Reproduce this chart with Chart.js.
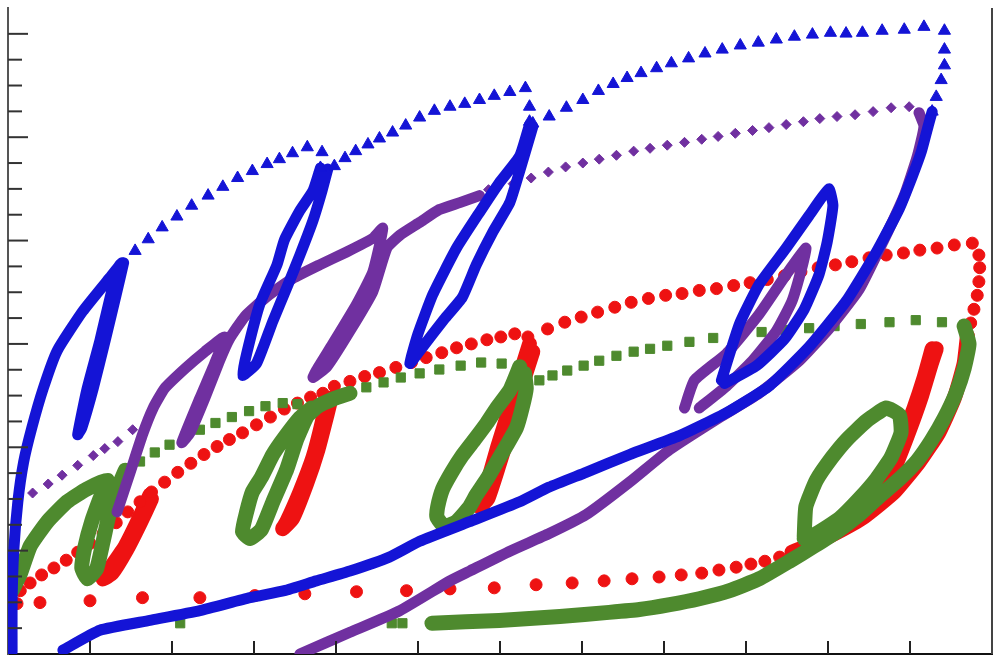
<!DOCTYPE html>
<html>
<head>
<meta charset="utf-8">
<script src="https://cdn.jsdelivr.net/npm/chart.js@4.4.1/dist/chart.umd.min.js"></script>
<style>
  html, body { margin: 0; padding: 0; background: #fff; }
  #wrap { width: 1000px; height: 666px; }
</style>
</head>
<body>
<div id="wrap"><canvas id="chart" width="1000" height="666"></canvas></div>
<script>
// values, [x, y]; null breaks a trail
const xTicks = [1, 2, 3, 4, 5, 6, 7, 8, 9, 10, 11];
const yTicks = [1, 2, 3, 4, 5, 6, 7, 8, 9, 10, 11, 12, 13, 14, 15, 16, 17, 18, 19, 20, 21, 22, 23, 24];

// blue (triangles)
const blueRise = [[0.05,0.08],[0.05,2.06],[0.07,3.98],[0.12,5.89],[0.19,7.42],[0.29,8.75],[0.43,10.28],[0.60,11.74],[0.91,13.26],[1.24,14.56],[1.39,15.14],
  [1.27,14.11],[1.12,12.12],[0.96,10.21],[0.85,8.49],[0.90,8.75],[1.04,10.28],[1.19,12.19],[1.32,13.91],[1.41,15.14]];
const blueLoop2 = [[3.81,18.81],[3.72,17.93],[3.56,17.16],[3.37,16.02],[3.28,15.06],[3.07,13.53],[2.91,11.62],[2.86,10.78],[3.03,11.24],[3.23,12.88],[3.40,14.18],[3.56,15.44],[3.72,16.78],[3.83,17.93],[3.90,18.77]];
const blueLoop3 = [[6.36,20.49],[6.24,19.27],[5.99,18.23],[5.75,17.09],[5.47,15.71],[5.18,13.91],[5.00,12.39],[4.90,11.24],[5.04,11.81],[5.32,12.96],[5.54,13.80],[5.71,15.06],[5.91,16.32],[6.12,17.47],[6.24,18.69],[6.40,20.41]];
const blueFall = [[11.27,20.99],[11.23,20.53],[11.14,19.46],[11.03,18.50],[10.87,17.24],[10.59,15.56],[10.22,13.65],[9.77,11.89],[9.28,10.36],[8.76,9.33],[8.19,8.45],[7.58,7.72],[7.05,7.03],[6.60,6.46],[6.24,5.89],[5.63,5.12],[5.02,4.36],[4.65,3.75],[4.17,3.21],[3.76,2.83],[3.37,2.45],[2.95,2.18],[2.34,1.68],[1.73,1.30],[1.12,0.92],[0.67,0.15]];
const blueLoop4 = [[8.70,10.59],[8.92,12.77],[9.16,14.30],[9.49,15.71],[9.77,16.97],[10.01,18.00],[10.06,17.35],[9.99,15.94],[9.89,14.68],[9.71,13.34],[9.47,12.19],[9.13,11.16],[8.74,10.47]];
const blueArc1 = [[1.55,15.60],[1.71,16.05],[1.88,16.51],[2.06,16.93],[2.24,17.35],[2.44,17.74],[2.62,18.08],[2.80,18.42],[2.98,18.69],[3.16,18.96],[3.31,19.15],[3.47,19.38],[3.65,19.61],[3.83,19.42],[3.81,18.81]];
const blueArc2 = [[3.98,18.88],[4.11,19.19],[4.24,19.46],[4.39,19.72],[4.53,19.95],[4.69,20.18],[4.85,20.45],[5.02,20.76],[5.20,21.02],[5.39,21.18],[5.57,21.29],[5.75,21.44],[5.93,21.60],[6.12,21.75],[6.31,21.90],[6.36,21.18],[6.36,20.60]];
const blueArc3 = [[6.40,20.53],[6.60,20.80],[6.81,21.14],[7.01,21.44],[7.20,21.79],[7.38,22.06],[7.55,22.29],[7.72,22.48],[7.91,22.67],[8.09,22.86],[8.30,23.05],[8.50,23.24],[8.71,23.39],[8.93,23.55],[9.15,23.66],[9.37,23.78],[9.59,23.89],[9.81,23.97],[10.03,24.04],[10.22,24.01],[10.42,24.04],[10.66,24.12],[10.93,24.16],[11.17,24.27],[11.42,24.12],[11.42,23.39],[11.42,22.78],[11.38,22.21],[11.32,21.56],[11.27,20.99]];

// purple (diamonds)
const purpleDash = [[0.11,6.00],[0.30,6.23],[0.49,6.58],[0.66,6.92],[0.85,7.30],[1.04,7.68],[1.18,7.95],[1.34,8.22],[1.52,8.68]];
const purpleRise = [[1.33,5.50],[1.49,7.03],[1.64,8.49],[1.77,9.52],[1.91,10.28],[2.16,11.05],[2.40,11.70],[2.64,12.27],[2.52,11.24],[2.34,9.90],[2.12,8.18],[2.22,8.56],[2.40,9.90],[2.58,11.35],[2.70,12.19],
  [2.89,13.07],[3.16,13.84],[3.47,14.53],[3.80,15.06],[4.13,15.56],[4.45,16.09],[4.57,16.48],[4.45,14.79],[4.25,13.53],[3.96,12.00],[3.76,10.97],[3.72,10.70],[3.89,11.12],[4.17,12.50],[4.45,14.03],[4.62,15.71],
  [4.78,16.21],[5.02,16.70],[5.26,17.20],[5.51,17.47],[5.75,17.74]];
const purpleArc = [[5.86,17.97],[6.16,18.20],[6.38,18.42],[6.59,18.65],[6.80,18.85],[7.01,19.00],[7.21,19.15],[7.42,19.30],[7.63,19.46],[7.83,19.57],[8.04,19.69],[8.25,19.80],[8.46,19.92],[8.66,20.03],[8.87,20.15],[9.08,20.26],[9.28,20.37],[9.49,20.49],[9.70,20.60],[9.90,20.72],[10.11,20.80],[10.33,20.87],[10.55,20.99],[10.77,21.14],[10.99,21.18]];
const purpleFall = [[11.11,20.95],[11.17,20.41],[11.09,19.27],[10.93,17.74],[10.68,16.02],[10.38,14.11],[10.01,12.58],[9.65,11.35],[9.16,10.09],[8.67,9.14],[8.07,7.91],[7.58,6.65],[7.05,5.39],[6.60,4.66],[6.12,3.98],[5.63,3.21],[5.39,2.83],[4.78,1.68],[4.17,0.84],[3.56,0.00]];
const purpleLoop4 = [[8.25,9.52],[8.37,10.59],[8.76,11.62],[9.16,13.15],[9.49,14.68],[9.73,15.71],[9.69,15.06],[9.56,13.65],[9.37,12.50],[9.08,11.35],[8.76,10.36],[8.43,9.52]];

// red (circles)
const redBase = [[0.11,1.95],[0.39,1.99],[1.00,2.06],[1.64,2.18],[2.34,2.18],[3.01,2.26],[3.62,2.33],[4.25,2.41],[4.86,2.45],[5.39,2.52],[5.93,2.56],[6.44,2.68],[6.88,2.75],[7.27,2.83],[7.61,2.91],[7.94,2.98],[8.21,3.06],[8.46,3.13],[8.67,3.25],[8.88,3.36],[9.06,3.48],[9.23,3.59],[9.41,3.75],[9.56,3.94]];
const redArc1 = [[0.15,2.45],[0.27,2.75],[0.41,3.06],[0.56,3.33],[0.71,3.63],[0.85,3.94],[1.00,4.28],[1.16,4.66],[1.32,5.08],[1.46,5.50],[1.61,5.89],[1.75,6.27],[1.91,6.65],[2.07,7.03],[2.23,7.38],[2.39,7.72],[2.55,8.03],[2.70,8.30],[2.86,8.56],[3.03,8.87],[3.20,9.17],[3.37,9.48],[3.53,9.71],[3.69,9.94],[3.84,10.09]];
const redArc2 = [[3.98,10.36],[4.17,10.55],[4.35,10.74],[4.53,10.89],[4.73,11.09],[4.92,11.28],[5.10,11.47],[5.29,11.66],[5.47,11.85],[5.65,12.00],[5.84,12.16],[6.01,12.27],[6.18,12.39],[6.34,12.27]];
const redArc3 = [[6.58,12.58],[6.79,12.84],[6.99,13.04],[7.19,13.23],[7.40,13.42],[7.60,13.61],[7.81,13.76],[8.02,13.88],[8.22,13.95],[8.43,14.07],[8.64,14.14],[8.85,14.26],[9.05,14.37],[9.26,14.49],[9.47,14.64],[9.67,14.79],[9.88,14.95],[10.09,15.06],[10.29,15.18],[10.50,15.33],[10.71,15.44],[10.92,15.52],[11.12,15.63],[11.33,15.71],[11.54,15.83],[11.76,15.90],
  [11.84,15.44],[11.85,14.95],[11.84,14.41],[11.82,13.88],[11.78,13.34],[11.74,12.81],[11.70,12.31]];
const redLoop0 = [[1.73,6.15],[1.58,5.12],[1.43,4.17],[1.24,3.29],[1.16,2.91],[1.27,3.13],[1.45,4.05],[1.61,5.05],[1.75,6.00]];
const redLoop1 = [[3.89,9.90],[3.83,8.94],[3.72,7.61],[3.56,6.27],[3.40,5.12],[3.35,4.85],[3.47,5.24],[3.64,6.58],[3.78,7.91],[3.89,9.25],[3.94,9.90]];
const redLoop3 = [[6.36,12.00],[6.24,10.78],[6.12,9.52],[5.97,7.99],[5.85,6.65],[5.75,5.70],[5.85,6.00],[5.99,7.34],[6.14,8.87],[6.27,10.40],[6.40,11.70]];
const redLoop4 = [[11.27,11.81],[11.17,10.67],[11.05,9.52],[10.93,8.56],[10.78,7.61],[10.62,6.38],[10.50,5.70],[10.65,6.08],[10.83,7.34],[10.99,8.64],[11.14,9.98],[11.26,11.24],[11.32,11.81]];
const redFall = [[11.70,12.31],[11.66,11.24],[11.54,9.90],[11.35,8.56],[11.11,7.42],[10.81,6.27],[10.44,5.31],[10.08,4.66],[9.77,4.20],[9.56,3.94]];

// green (squares)
const greenRise = [[0.05,2.45],[0.15,3.10],[0.27,4.17],[0.48,5.12],[0.72,5.89],[0.96,6.38],[1.21,6.73],[1.12,6.00],[1.02,5.12],[0.94,4.17],[0.90,3.33],[0.97,2.91],[1.08,3.29],[1.16,4.36],[1.24,5.50],[1.33,6.35],[1.43,7.11]];
const greenArc1 = [[1.61,7.45],[1.79,7.80],[1.97,8.10],[2.16,8.41],[2.34,8.68],[2.53,8.94],[2.73,9.17],[2.94,9.40],[3.14,9.59],[3.35,9.71],[3.53,9.67]];
const greenLoop2 = [[3.70,9.52],[3.56,9.14],[3.37,8.37],[3.23,7.72],[3.09,6.84],[2.98,6.27],[2.91,5.50],[2.86,4.74],[2.95,4.47],[3.09,4.82],[3.23,5.89],[3.40,7.15],[3.52,8.30],[3.65,9.21],[3.78,9.59],[3.96,9.86],[4.17,10.09]];
const greenArc2 = [[4.37,10.32],[4.58,10.51],[4.79,10.70],[5.02,10.86],[5.26,11.01],[5.52,11.16],[5.77,11.28],[6.02,11.24]];
const greenLoop3 = [[6.24,11.12],[6.12,10.21],[5.96,9.52],[5.84,8.94],[5.69,8.30],[5.54,7.68],[5.41,7.03],[5.30,6.38],[5.24,5.70],[5.23,5.31],[5.32,4.93],[5.47,5.12],[5.63,5.70],[5.71,6.15],[5.84,6.77],[5.96,7.42],[6.08,8.07],[6.20,8.75],[6.27,9.52],[6.32,10.28],[6.30,10.86]];
const greenArc3 = [[6.48,10.59],[6.64,10.78],[6.82,10.97],[7.02,11.16],[7.21,11.35],[7.42,11.54],[7.63,11.70],[7.83,11.81],[8.04,11.93],[8.31,12.08],[8.60,12.23],[8.89,12.35],[9.19,12.46],[9.48,12.54],[9.77,12.61],[10.08,12.69],[10.40,12.77],[10.75,12.84],[11.07,12.92],[11.39,12.84]];
const greenFall = [[11.66,12.69],[11.72,12.00],[11.66,11.05],[11.56,10.09],[11.42,9.14],[11.26,8.26],[11.09,7.49],[10.87,6.77],[10.62,6.08],[10.38,5.39],[10.11,4.74],[9.83,4.17],[9.53,3.59],[9.16,2.91],[8.80,2.45],[8.43,2.14],[8.07,1.91],[7.70,1.72],[7.33,1.61],[6.73,1.45],[5.99,1.30],[5.17,1.19]];
const greenLoop4 = [[9.71,4.55],[9.73,5.70],[9.86,6.73],[10.05,7.61],[10.23,8.30],[10.47,9.02],[10.71,9.52],[10.87,9.25],[10.89,8.56],[10.77,7.61],[10.59,6.77],[10.38,6.00],[10.14,5.24],[9.86,4.66],[9.71,4.47]];
const greenBase = [[2.10,1.19],[4.68,1.19],[4.81,1.19]];

const BLUE = '#1414d6', PURPLE = '#7030a0', RED = '#ee1212', GREEN = '#4e8a2e';

// join trails, a null between each so the line breaks
function trail(...parts) {
  const out = [];
  parts.forEach((p, i) => {
    if (i > 0) out.push({ x: null, y: null });
    p.forEach(v => out.push({ x: v[0], y: v[1] }));
  });
  return out;
}
function marks(...parts) {
  return [].concat(...parts).map(v => ({ x: v[0], y: v[1] }));
}

function dense(color, width, data, order) {
  return {
    data: data, showLine: true, borderColor: color, backgroundColor: color,
    borderWidth: width, pointRadius: 0, tension: 0.15, spanGaps: false,
    borderJoinStyle: 'round', borderCapStyle: 'round', order: order
  };
}
function sparse(color, style, radius, data, order) {
  return {
    data: data, showLine: false, pointStyle: style, pointRadius: radius,
    backgroundColor: color, borderColor: color, borderWidth: 1, order: order
  };
}

// inward tick marks, like the original figure
const innerTicks = {
  id: 'innerTicks',
  afterDatasetsDraw(chart) {
    const { ctx, chartArea, scales } = chart;
    ctx.save();
    ctx.strokeStyle = '#222';
    ctx.lineWidth = 2;
    xTicks.forEach(v => {
      const px = scales.x.getPixelForValue(v);
      ctx.beginPath();
      ctx.moveTo(px, chartArea.bottom);
      ctx.lineTo(px, chartArea.bottom - 13);
      ctx.stroke();
    });
    ctx.strokeStyle = '#333';
    yTicks.forEach(v => {
      const py = scales.y.getPixelForValue(v);
      const len = v % 4 === 0 ? 20 : 14;
      ctx.beginPath();
      ctx.moveTo(chartArea.left, py);
      ctx.lineTo(chartArea.left + len, py);
      ctx.stroke();
    });
    // right frame line
    ctx.strokeStyle = '#444';
    ctx.beginPath();
    ctx.moveTo(chartArea.right, chartArea.top);
    ctx.lineTo(chartArea.right, chartArea.bottom);
    ctx.stroke();
    ctx.restore();
  }
};

const ctx = document.getElementById('chart').getContext('2d');
new Chart(ctx, {
  type: 'scatter',
  data: {
    datasets: [
      dense(RED, 15, trail(redLoop0, redLoop1, redLoop3, redLoop4, redFall), 8),
      sparse(RED, 'circle', 6, marks(redBase, redArc1, redArc2, redArc3), 7),
      dense(GREEN, 15, trail(greenRise, greenLoop2, greenLoop3, greenFall, greenLoop4), 6),
      sparse(GREEN, 'rect', 6.5, marks(greenArc1, greenArc2, greenArc3, greenBase), 5),
      dense(PURPLE, 11, trail(purpleRise, purpleFall, purpleLoop4), 4),
      sparse(PURPLE, 'rectRot', 5, marks(purpleDash, purpleArc), 3),
      dense(BLUE, 11, trail(blueRise, blueLoop2, blueLoop3, blueFall, blueLoop4), 2),
      sparse(BLUE, 'triangle', 7, marks(blueArc1, blueArc2, blueArc3), 1)
    ]
  },
  options: {
    responsive: false,
    animation: false,
    layout: { padding: { left: 8, right: 7, top: 0, bottom: 12 } },
    scales: {
      x: {
        type: 'linear', min: 0, max: 12,
        ticks: { display: false },
        grid: { display: false, drawTicks: false },
        border: { display: true, color: '#111', width: 2 }
      },
      y: {
        min: 0, max: 25,
        ticks: { display: false },
        grid: { display: false, drawTicks: false },
        border: { display: true, color: '#555', width: 2 }
      }
    },
    plugins: {
      legend: { display: false },
      tooltip: { enabled: false }
    }
  },
  plugins: [innerTicks]
});
</script>
</body>
</html>
